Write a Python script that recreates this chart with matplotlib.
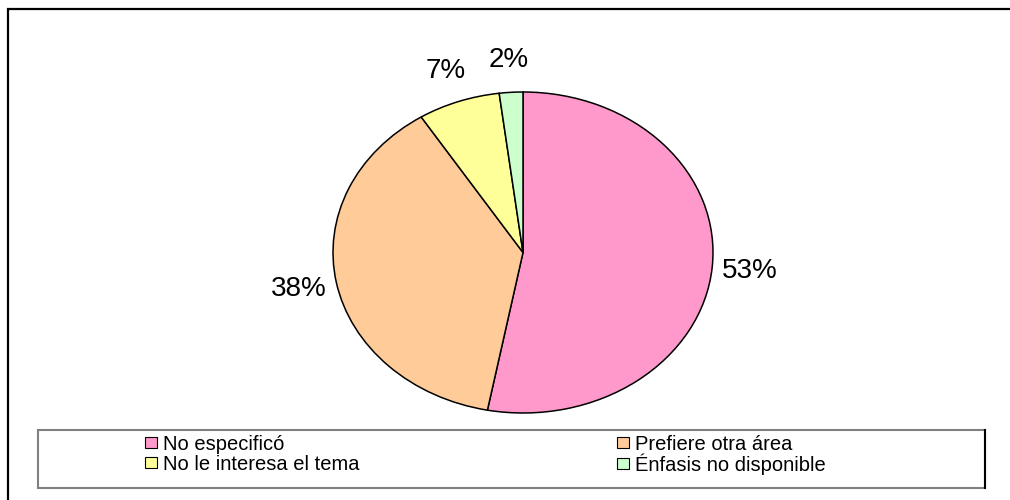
import matplotlib
matplotlib.use('Agg')
import matplotlib.pyplot as plt
from matplotlib.patches import Rectangle, Patch
from matplotlib.lines import Line2D

# data
categories = ['No especificó', 'Prefiere otra área', 'No le interesa el tema', 'Énfasis no disponible']
shares = [53, 38, 7, 2]
colors = ['#FF99CC', '#FFCC99', '#FFFF99', '#CCFFCC']

plt.rcParams['font.family'] = ['Liberation Sans', 'DejaVu Sans']

W, H = 1010, 500
fig = plt.figure(figsize=(W / 100, H / 100), dpi=100)


def fx(px):
    return px / W


def fy(py):
    return 1 - py / H


# outer frame, only top and left edges fall inside the picture
fig.add_artist(Rectangle((fx(8), -0.1), 1.2, fy(9) + 0.1, transform=fig.transFigure,
                         fill=False, ec='black', lw=1.6))

# pie, stretched to an ellipse like the original
ax = fig.add_axes([fx(333), fy(413), fx(380), 321 / H])
ax.pie(shares, colors=colors, startangle=90, counterclock=False,
       autopct='%1.0f%%', pctdistance=1.2,
       wedgeprops=dict(edgecolor='black', linewidth=1.1),
       textprops=dict(fontsize=20, color='black'))
ax.set_aspect('auto')
ax.set_xlim(-1, 1)
ax.set_ylim(-1, 1)
ax.axis('off')

# legend box
fig.add_artist(Rectangle((fx(38), fy(488)), fx(985) - fx(38), fy(430) - fy(488),
                         transform=fig.transFigure, fill=False, ec='#808080', lw=1.5))
fig.add_artist(Line2D([fx(985), fx(985)], [fy(488), fy(430)], transform=fig.transFigure,
                      color='black', lw=1.5))

# legend entries laid out two per row, as in the original
col_x = [145, 617]
row_y = [444, 464]
leg_kw = dict(loc='center left', frameon=False, borderpad=0, borderaxespad=0,
              handlelength=0.6, handleheight=0.45, handletextpad=0.3, fontsize=14.5)
for i, (label, c) in enumerate(zip(categories, colors)):
    h = Patch(facecolor=c, edgecolor='black', linewidth=0.8)
    fig.legend(handles=[h], labels=[label],
               bbox_to_anchor=(fx(col_x[i % 2]), fy(row_y[i // 2])), **leg_kw)

fig.savefig('out.png', dpi=100)
